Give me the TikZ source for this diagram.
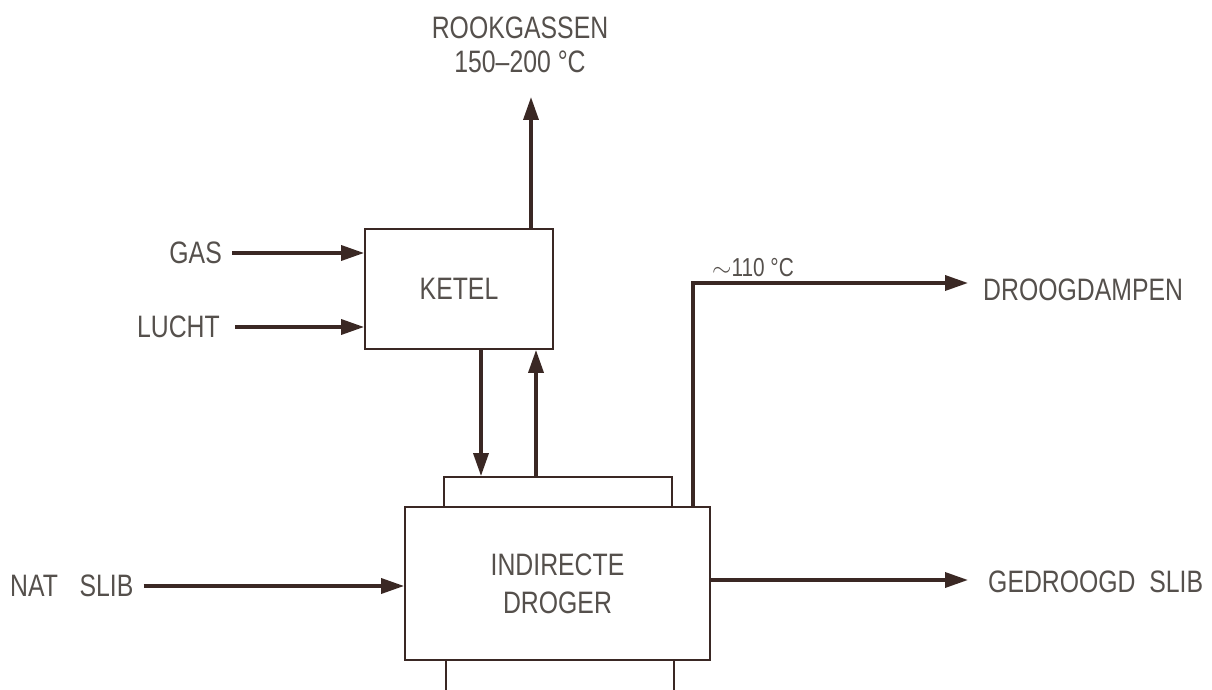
\documentclass[tikz,border=0pt]{standalone}
\usepackage{fontspec}
\setmainfont{Liberation Sans}[FakeStretch=0.8]
\usetikzlibrary{arrows.meta}
\definecolor{lijnkleur}{RGB}{58,40,36}
\definecolor{txtkleur}{RGB}{85,80,76}

\begin{document}
\begin{tikzpicture}[x=1pt,y=1pt,
  blok/.style={draw=lijnkleur,line width=1.8pt,fill=white,inner sep=0pt},
  txt/.style={text=txtkleur,inner sep=0pt,font=\fontsize{31}{38}\selectfont},
  stroom/.style={draw=lijnkleur,line width=3.5pt,-{Triangle[length=23pt,width=15pt]}}]
\useasboundingbox (0,0) rectangle (1212,689);
\clip (0,0) rectangle (1212,689);
% apparaten
\node[blok,txt,minimum width=188pt,minimum height=120pt] (ketel) at (459,400) {KETEL};
\node[blok,minimum width=228pt,minimum height=30pt] (mantelboven) at (558,197) {};
\node[blok,minimum width=228pt,minimum height=40pt] (mantelonder) at (560,9) {};
\node[blok,txt,align=center,minimum width=305pt,minimum height=153pt] (droger) at (557.5,105.5) {INDIRECTE\\DROGER};
% teksten
\node[txt,anchor=east] (gas) at (222,436) {GAS};
\node[txt,anchor=east] (lucht) at (220,362) {LUCHT};
\node[txt,align=center,font=\fontsize{31}{34}\selectfont] (rook) at (520,644) {ROOKGASSEN\\150--200 \textdegree C};
\node[txt,anchor=west] (natslib) at (10,103) {NAT\hspace{0.7em}SLIB};
\node[txt,anchor=west] (damp) at (983,399) {DROOGDAMPEN};
\node[txt,anchor=base west,font=\fontsize{26}{28}\selectfont] (temp) at (712,412) {$\sim$110 \textdegree C};
\node[txt,anchor=west] (gedroogd) at (988,107) {GEDROOGD\ \ SLIB};
\coordinate (rookuit) at (531,592);
\coordinate (dampuit) at (968,406);
\coordinate (slibuit) at (968,109);
% stromen
\draw[stroom] ([xshift=10pt]gas.east) -- (ketel.west |- gas.east);
\draw[stroom] ([xshift=15pt]lucht.east) -- (ketel.west |- lucht.east);
\draw[stroom] (ketel.north -| rookuit) -- (rookuit);
\draw[stroom] ([xshift=22pt]ketel.south) -- ([xshift=22pt]ketel.south |- mantelboven.north);
\draw[stroom] ([xshift=77pt]ketel.south |- mantelboven.north) -- ([xshift=77pt]ketel.south);
\draw[stroom] ([xshift=135.5pt]droger.north) |- (dampuit);
\draw[stroom] ([xshift=10pt]natslib.east) -- (droger.west |- natslib.east);
\draw[stroom] (droger.east |- slibuit) -- (slibuit);
\end{tikzpicture}
\end{document}
